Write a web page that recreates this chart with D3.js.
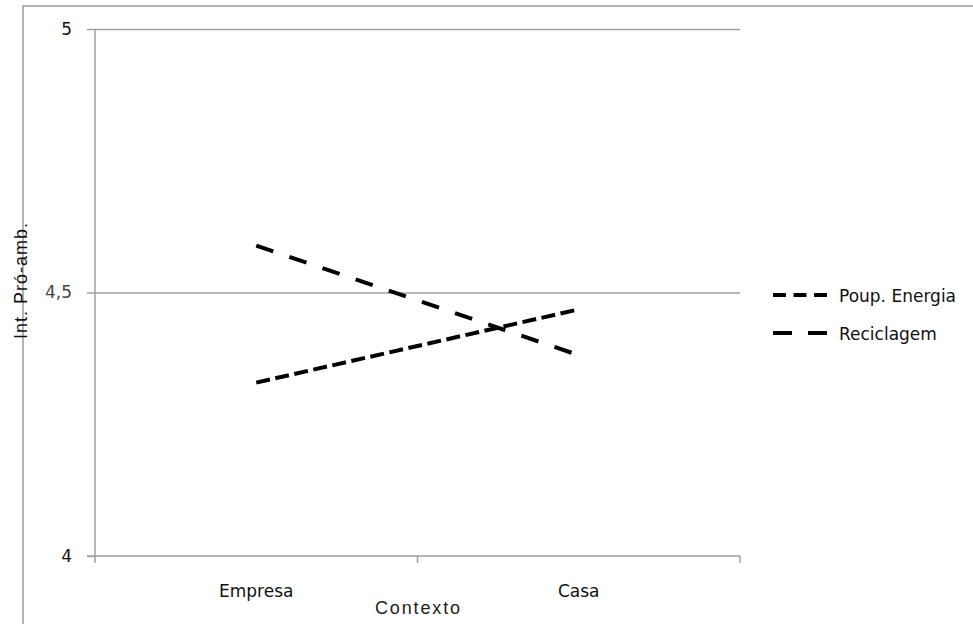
<!DOCTYPE html>
<html><head><meta charset="utf-8">
<script src="https://cdn.jsdelivr.net/npm/d3@7/dist/d3.min.js"></script>
<style>body{margin:0;background:#fff}svg{display:block}</style>
</head><body>
<svg id="c" width="973" height="624"></svg>
<script>
const categories = ["Empresa", "Casa"];
const poupEnergia = [4.329, 4.468];
const reciclagem = [4.589, 4.381];
const yTicks = [4, 4.5, 5];
const seriesNames = ["Poup. Energia", "Reciclagem"];

const svg = d3.select("#c");
const pL = 95, pR = 740, pT = 29, pB = 556;
const grey = "#a0a0a0";

// outer frame
svg.append("rect").attr("x", 23).attr("y", 6).attr("width", 1000).attr("height", 700)
  .attr("fill", "none").attr("stroke", "#9a9a9a").attr("stroke-width", 1.5);

const x = d3.scalePoint().domain(categories).range([pL, pR]).padding(0.5);
const y = d3.scaleLinear().domain([4, 5]).range([pB, pT]);

// gridlines
svg.append("g").attr("transform", `translate(${pL},0)`)
  .call(d3.axisLeft(y).tickValues(yTicks.filter(d => d > 4)).tickSize(-(pR - pL)).tickFormat(""))
  .call(g => g.select(".domain").remove())
  .selectAll("line").attr("stroke", grey).attr("stroke-width", 1.5);

// y axis
const ya = svg.append("g").attr("transform", `translate(${pL},0)`)
  .call(d3.axisLeft(y).tickValues(yTicks).tickSize(8).tickPadding(15).tickSizeOuter(0)
    .tickFormat(d => String(d).replace(".", ",")));
ya.select(".domain").attr("stroke", grey).attr("stroke-width", 1.5)
  .attr("d", `M0,${pT}V${pB + 7}`);
ya.selectAll("line").attr("stroke", grey).attr("stroke-width", 1.5);
ya.selectAll("text").attr("font-family", "DejaVu Sans").attr("font-size", 17)
  .attr("fill", d => d === 4.5 ? "#444" : "#111");

// x axis
const xa = svg.append("g").attr("transform", `translate(0,${pB})`);
xa.append("line").attr("x1", pL - 8).attr("x2", pR).attr("stroke", grey).attr("stroke-width", 1.5);
const bounds = [x(categories[0]) - x.step() / 2, ...categories.map(c => x(c) + x.step() / 2)];
xa.selectAll(".tk").data(bounds.slice(1)).join("line")
  .attr("x1", d => d).attr("x2", d => d).attr("y1", 0).attr("y2", 7)
  .attr("stroke", grey).attr("stroke-width", 1.5);
xa.selectAll(".lbl").data(categories).join("text")
  .attr("x", d => x(d)).attr("y", 41).attr("text-anchor", "middle")
  .attr("font-family", "DejaVu Sans").attr("font-size", 17).attr("fill", "#111")
  .text(d => d);

// axis titles
svg.append("text").attr("x", (pL + pR) / 2).attr("y", 614).attr("text-anchor", "middle")
  .attr("font-family", "Liberation Sans").attr("font-size", 18).attr("fill", "#222")
  .attr("textLength", 85).attr("lengthAdjust", "spacing").text("Contexto");
svg.append("text").attr("transform", "translate(27,281) rotate(-90)").attr("text-anchor", "middle")
  .attr("font-family", "Liberation Sans").attr("font-size", 18).attr("fill", "#111")
  .attr("textLength", 116).attr("lengthAdjust", "spacing").text("Int. Pró-amb.");

// series
const series = [
  {name: seriesNames[0], values: poupEnergia, dash: "14,5.5"},
  {name: seriesNames[1], values: reciclagem, dash: "18,17"}
];
const line = d3.line().x((d, i) => x(categories[i])).y(d => y(d));
svg.selectAll(".s").data(series).join("path")
  .attr("d", d => line(d.values)).attr("fill", "none").attr("stroke", "#000")
  .attr("stroke-width", 4).attr("stroke-dasharray", d => d.dash);

// legend
const lg = svg.append("g").attr("transform", "translate(773,295)");
const li = lg.selectAll("g").data(series).join("g").attr("transform", (d, i) => `translate(0,${i * 38})`);
li.append("line").attr("x1", 0).attr("x2", 54).attr("stroke", "#000").attr("stroke-width", 4)
  .attr("stroke-dasharray", (d, i) => i === 0 ? "13,7.5" : "19,16");
li.append("text").attr("x", 66).attr("y", 7).attr("font-family", "DejaVu Sans").attr("font-size", 17)
  .attr("fill", "#111").text(d => d.name);
</script>
</body></html>
